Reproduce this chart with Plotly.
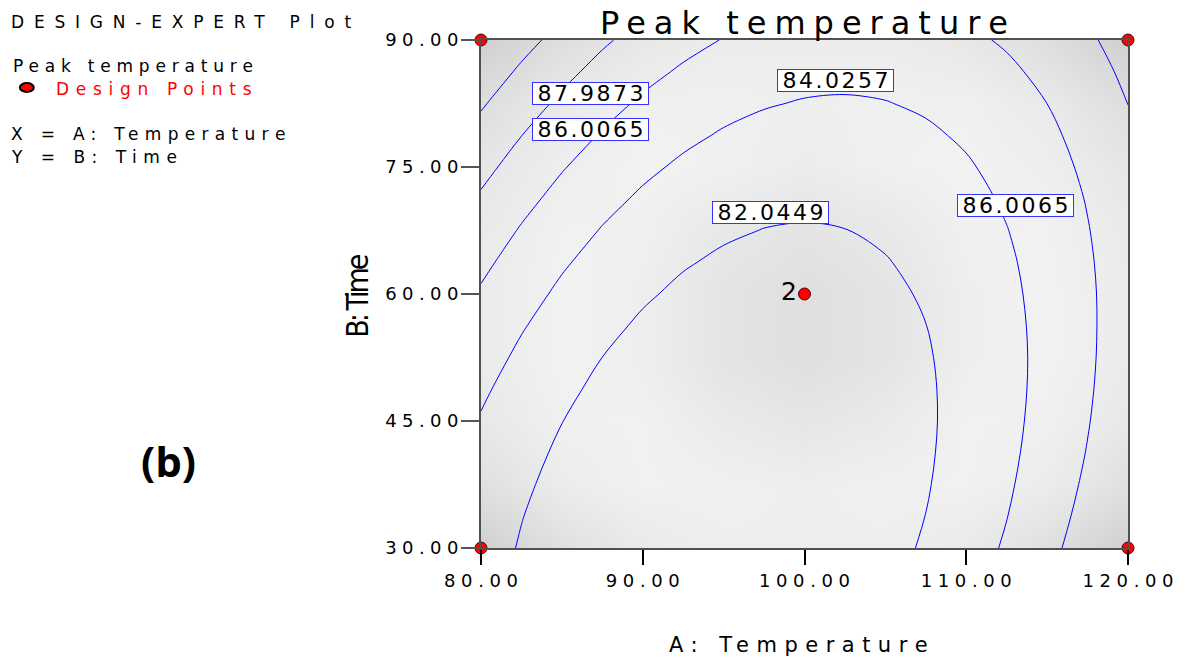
import plotly.graph_objects as go

# ---------------- data ----------------
title_text = "Peak temperature"
x_title = "A: Temperature"
y_title = "B: Time"
x_ticks = [80, 90, 100, 110, 120]
y_ticks = [30, 45, 60, 75, 90]
x_ticklabels = ["80.00", "90.00", "100.00", "110.00", "120.00"]
y_ticklabels = ["30.00", "45.00", "60.00", "75.00", "90.00"]
contour_levels = [82.0449, 84.0257, 86.0065, 87.9873, 89.9681]
label_texts = ["87.9873", "86.0065", "84.0257", "82.0449", "86.0065"]
design_x = [80, 80, 120, 120, 100]
design_y = [30, 90, 30, 90, 60]
center_label = "2"

# response surface (Peak temperature), rows = B: Time, cols = A: Temperature
grid_x = [80.0, 82.5, 85.0, 87.5, 90.0, 92.5, 95.0, 97.5, 100.0,
          102.5, 105.0, 107.5, 110.0, 112.5, 115.0, 117.5, 120.0]
grid_y = [30.0, 33.75, 37.5, 41.25, 45.0, 48.75, 52.5, 56.25, 60.0,
          63.75, 67.5, 71.25, 75.0, 78.75, 82.5, 86.25, 90.0]
response = [
 [82.78, 81.92, 81.23, 80.69, 80.32, 80.11, 80.06, 80.18, 80.45, 80.89, 81.48, 82.24, 83.16, 84.24, 85.49, 86.89, 87.78],
 [82.98, 82.09, 81.36, 80.79, 80.39, 80.14, 80.06, 80.14, 80.38, 80.78, 81.34, 82.06, 82.95, 83.99, 85.20, 86.57, 87.66],
 [83.24, 82.31, 81.55, 80.95, 80.50, 80.22, 80.11, 80.15, 80.35, 80.72, 81.25, 81.93, 82.78, 83.79, 84.97, 86.30, 87.55],
 [83.54, 82.58, 81.78, 81.15, 80.67, 80.35, 80.20, 80.21, 80.38, 80.71, 81.20, 81.85, 82.67, 83.64, 84.78, 86.08, 87.44],
 [83.90, 82.90, 82.07, 81.40, 80.88, 80.53, 80.35, 80.32, 80.45, 80.75, 81.21, 81.82, 82.60, 83.54, 84.65, 85.91, 87.34],
 [84.30, 83.27, 82.40, 81.69, 81.15, 80.76, 80.54, 80.48, 80.58, 80.84, 81.26, 81.84, 82.59, 83.49, 84.56, 85.79, 87.18],
 [84.76, 83.69, 82.79, 82.04, 81.46, 81.04, 80.78, 80.69, 80.75, 80.98, 81.36, 81.91, 82.62, 83.49, 84.52, 85.72, 87.07],
 [85.26, 84.16, 83.22, 82.44, 81.82, 81.37, 81.08, 80.94, 80.97, 81.16, 81.52, 82.03, 82.70, 83.54, 84.54, 85.70, 87.02],
 [85.81, 84.68, 83.70, 82.89, 82.24, 81.75, 81.42, 81.25, 81.25, 81.40, 81.72, 82.20, 82.84, 83.64, 84.60, 85.72, 87.01],
 [86.41, 85.24, 84.23, 83.39, 82.70, 82.17, 81.81, 81.61, 81.57, 81.69, 81.97, 82.41, 83.02, 83.78, 84.71, 85.80, 87.05],
 [87.06, 85.86, 84.82, 83.93, 83.21, 82.65, 82.25, 82.01, 81.94, 82.02, 82.27, 82.68, 83.25, 83.98, 84.87, 85.93, 87.14],
 [87.77, 86.53, 85.45, 84.53, 83.77, 83.18, 82.74, 82.47, 82.36, 82.41, 82.62, 82.99, 83.53, 84.23, 85.08, 86.10, 87.28],
 [88.52, 87.24, 86.13, 85.17, 84.38, 83.75, 83.28, 82.98, 82.83, 82.85, 83.02, 83.36, 83.86, 84.52, 85.34, 86.33, 87.47],
 [89.32, 88.01, 86.86, 85.87, 85.04, 84.38, 83.87, 83.53, 83.35, 83.33, 83.47, 83.78, 84.24, 84.87, 85.65, 86.60, 87.71],
 [90.17, 88.82, 87.64, 86.61, 85.75, 85.05, 84.51, 84.14, 83.92, 83.86, 83.97, 84.24, 84.67, 85.26, 86.01, 86.93, 88.00],
 [91.07, 89.68, 88.47, 87.41, 86.51, 85.78, 85.20, 84.79, 84.54, 84.45, 84.52, 84.75, 85.15, 85.70, 86.42, 87.30, 88.34],
 [92.01, 90.60, 89.34, 88.25, 87.32, 86.55, 85.94, 85.49, 85.21, 85.08, 85.12, 85.32, 85.68, 86.20, 86.88, 87.72, 88.73],
]

# background grey shading (0-255) on a coarse grid
shade_x = [80, 85, 90, 95, 100, 105, 110, 115, 120]
shade_y = [30, 37.5, 45, 52.5, 60, 67.5, 75, 82.5, 90]
shade = [
 [208, 224, 234, 238, 238, 238, 234, 224, 208],
 [224, 236, 241, 240, 238, 240, 241, 236, 224],
 [232, 240, 241, 234, 230, 234, 241, 240, 232],
 [235, 242, 238, 228, 223, 228, 238, 242, 235],
 [235, 242, 238, 228, 223, 228, 238, 242, 235],
 [234, 241, 240, 232, 228, 232, 240, 241, 234],
 [230, 238, 242, 240, 236, 240, 242, 238, 230],
 [222, 234, 240, 240, 238, 240, 240, 234, 222],
 [208, 222, 232, 236, 236, 236, 232, 222, 208],
]

# ---------------- layout helpers ----------------
W, H = 1185, 658
L, R, T, B = 481, 1132, 40, 548


def pxx(x):
    return (x - L) / (R - L)


def pxy(y):
    return (B - y) / (B - T)


def dx(x):
    return 80 + (x - L) / (R - L) * 40


def dy(y):
    return 30 + (B - y) / (B - T) * 60


def ls(text, sp):
    # widen text with letter spacing (no trailing space after the last character)
    return f'<span style="letter-spacing:{sp}px">{text[:-1]}</span>{text[-1]}'


fig = go.Figure()
fig.add_trace(go.Heatmap(x=shade_x, y=shade_y, z=shade, zmin=0, zmax=255,
                         colorscale=[[0, "rgb(0,0,0)"], [1, "rgb(255,255,255)"]],
                         zsmooth="best", showscale=False, hoverinfo="skip"))
step = contour_levels[1] - contour_levels[0]
fig.add_trace(go.Contour(x=grid_x, y=grid_y, z=response,
                         contours=dict(start=contour_levels[0], end=contour_levels[-1] + 0.001,
                                       size=step, coloring="none", showlabels=False),
                         line=dict(color="#0000ff", width=1, smoothing=1),
                         showscale=False, hoverinfo="skip"))
fig.add_trace(go.Scatter(x=design_x, y=design_y, mode="markers",
                         marker=dict(color="#ff0000", size=12, line=dict(color="#500000", width=1)),
                         cliponaxis=False, hoverinfo="skip", showlegend=False))

ann = []
label_pos = [(591.5, 93), (591.5, 129), (837.5, 80.5), (772.5, 212.5), (1018.5, 205.5)]
for t, (cx, cy) in zip(label_texts, label_pos):
    ann.append(dict(x=dx(cx), y=dy(cy), xref="x", yref="y", text=ls(t, 2.5), showarrow=False,
                    bgcolor="white", bordercolor="#3333ff", borderwidth=1, borderpad=0,
                    width=115, height=21, font=dict(family="DejaVu Sans", size=22, color="black")))
ann.append(dict(x=100, y=60, xref="x", yref="y", text=center_label, showarrow=False,
                xanchor="right", xshift=-6, yshift=3,
                font=dict(family="DejaVu Sans", size=25, color="black")))
ann.append(dict(x=pxx(806), y=pxy(23), xref="paper", yref="paper", text=ls(title_text, 8),
                showarrow=False, xanchor="center", yanchor="middle",
                font=dict(family="DejaVu Sans", size=32, color="black")))
ann.append(dict(x=pxx(800), y=pxy(645), xref="paper", yref="paper", text=ls(x_title, 7.5),
                showarrow=False, xanchor="center", yanchor="middle",
                font=dict(family="DejaVu Sans", size=21, color="black")))
ann.append(dict(x=pxx(356), y=pxy(296), xref="paper", yref="paper", text=ls(y_title, -3),
                showarrow=False, textangle=-90, xanchor="center", yanchor="middle",
                font=dict(family="Liberation Sans Narrow, DejaVu Sans Condensed, Liberation Sans",
                          size=30, color="black")))
left_items = [("DESIGN-EXPERT Plot", 22, 9.8, "black", 6),
              ("Peak temperature", 66, 5.8, "black", 8),
              ("Design Points", 89, 6.7, "#ff0000", 51),
              ("X = A: Temperature", 134, 6.3, "black", 6),
              ("Y = B: Time", 157, 6.5, "black", 6)]
for t, yy, sp, col, x0 in left_items:
    ann.append(dict(x=pxx(x0), y=pxy(yy), xref="paper", yref="paper", text=ls(t, sp),
                    showarrow=False, xanchor="left", yanchor="middle",
                    font=dict(family="DejaVu Sans", size=17, color=col)))
ann.append(dict(x=pxx(167), y=pxy(460), xref="paper", yref="paper", text="<b>(b)</b>",
                showarrow=False, xanchor="center", yanchor="middle",
                font=dict(family="Open Sans", size=42, color="black")))

fig.update_layout(
    width=W, height=H, margin=dict(l=L, r=W - R, t=T, b=H - B),
    paper_bgcolor="white", plot_bgcolor="white", showlegend=False,
    annotations=ann,
    shapes=[dict(type="circle", xref="paper", yref="paper", x0=pxx(17), x1=pxx(31),
                 y0=pxy(92), y1=pxy(83), fillcolor="#ff0000", line=dict(color="black", width=2))],
)
fig.update_xaxes(range=[80, 120], tickvals=x_ticks, ticktext=[ls(t, 5.6) for t in x_ticklabels],
                 ticks="outside", ticklen=15, tickwidth=1.5, tickcolor="black",
                 showline=True, linecolor="#505050", linewidth=2, mirror=True,
                 showgrid=False, zeroline=False,
                 tickfont=dict(family="DejaVu Sans", size=18, color="black"))
fig.update_yaxes(range=[30, 90], tickvals=y_ticks, ticktext=[ls(t, 5.4) for t in y_ticklabels],
                 ticks="outside", ticklen=18, tickwidth=1.5, tickcolor="#555555",
                 ticklabelstandoff=-1,
                 showline=True, linecolor="#505050", linewidth=2, mirror=True,
                 showgrid=False, zeroline=False,
                 tickfont=dict(family="DejaVu Sans", size=18, color="black"))
fig.write_html("out.html")
